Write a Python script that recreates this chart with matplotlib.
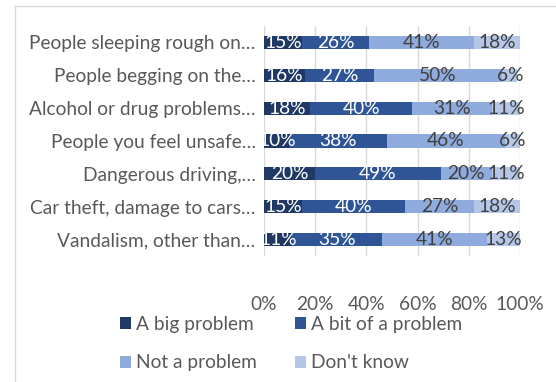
import matplotlib
matplotlib.use('Agg')
import matplotlib.pyplot as plt
from matplotlib.lines import Line2D
from matplotlib.patches import Patch

plt.rcParams['font.family'] = ['Lato', 'DejaVu Sans']

# Data
categories = [
    'People sleeping rough on…',
    'People begging on the…',
    'Alcohol or drug problems…',
    'People you feel unsafe…',
    'Dangerous driving,…',
    'Car theft, damage to cars…',
    'Vandalism, other than…',
]
series_names = ['A big problem', 'A bit of a problem', 'Not a problem', "Don't know"]
big_problem = [15, 16, 18, 10, 20, 15, 11]
bit_problem = [26, 27, 40, 38, 49, 40, 35]
not_problem = [41, 50, 31, 46, 20, 27, 41]
dont_know = [18, 6, 11, 6, 11, 18, 13]
x_ticks = [0, 20, 40, 60, 80, 100]

colors = ['#1F3864', '#2F5597', '#8FAADC', '#B4C7E7']
label_colors = ['white', 'white', '#404040', '#404040']
text_grey = '#595959'
fs = 13.8

W, H = 556, 382
fig = plt.figure(figsize=(W / 100, H / 100), dpi=100)
ax = fig.add_axes([264 / W, 1 - 256 / H, 256 / W, 230 / H])

ypos = list(range(len(categories)))
left = [0] * len(categories)
for vals, col, lcol, name in zip([big_problem, bit_problem, not_problem, dont_know],
                                 colors, label_colors, series_names):
    bars = ax.barh(ypos, vals, left=left, height=0.4, color=col, label=name, zorder=3)
    for b, v in zip(bars, vals):
        ax.text(b.get_x() + b.get_width() / 2, b.get_y() + b.get_height() / 2, f'{v}%',
                ha='center', va='center', color=lcol, fontsize=fs, zorder=4)
    left = [l + v for l, v in zip(left, vals)]

ax.set_xlim(0, 100)
ax.set_ylim(len(categories) - 0.5, -0.5)
ax.set_xticks(x_ticks)
ax.set_xticklabels([f'{t}%' for t in x_ticks])
ax.set_yticks(ypos)
ax.set_yticklabels(categories)
ax.grid(axis='x', color='#D9D9D9', linewidth=1, zorder=0)
for s in ax.spines.values():
    s.set_visible(False)
ax.tick_params(axis='both', length=0, colors=text_grey, labelsize=fs)
ax.tick_params(axis='x', pad=29)
ax.tick_params(axis='y', pad=6)

# legend, filled column-wise so reorder to get rows: big/bit, not/don't know
order = [0, 2, 1, 3]
handles = [Patch(facecolor=colors[i], edgecolor='none') for i in order]
labels = [series_names[i] for i in order]
fig.legend(handles, labels, ncol=2, loc='upper left',
           bbox_to_anchor=(120 / W, 1 - 316 / H), frameon=False,
           borderpad=0, borderaxespad=0,
           fontsize=fs, labelcolor=text_grey, handlelength=0.57, handleheight=0.57,
           handletextpad=0.26, columnspacing=2.0, labelspacing=1.12)

# chart border (left and top edges visible in the crop)
fig.add_artist(Line2D([15 / W, 15 / W], [0, 1 - 6 / H], color='#D9D9D9', linewidth=1))
fig.add_artist(Line2D([15 / W, 1], [1 - 6 / H, 1 - 6 / H], color='#D9D9D9', linewidth=1))

fig.savefig('out.png', dpi=100)
